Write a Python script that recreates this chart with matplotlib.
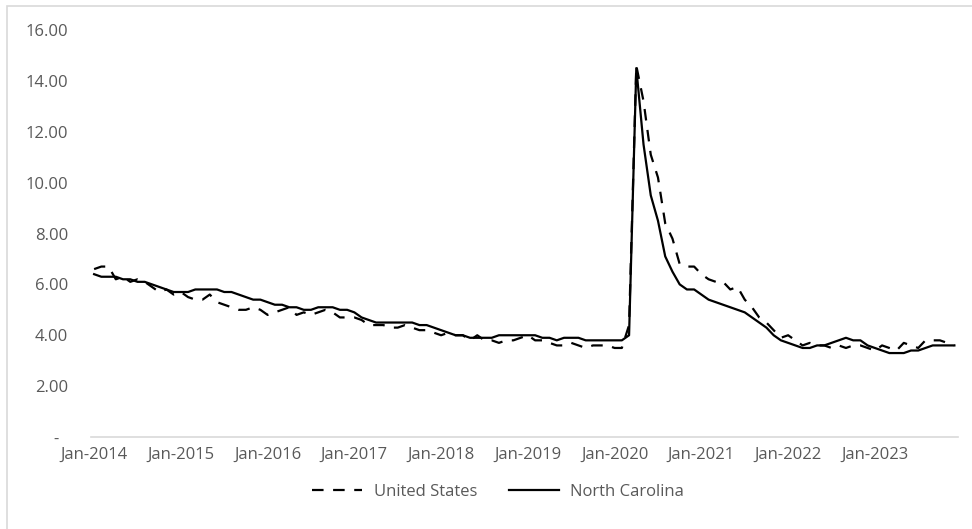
import matplotlib.pyplot as plt
from matplotlib.patches import Rectangle

# monthly unemployment rate, Jan-2014 .. Dec-2023
years = list(range(2014, 2024))
month_labels = [f"Jan-{y}" for y in years]

united_states = [
    6.6, 6.7, 6.7, 6.2, 6.3, 6.1, 6.2, 6.1, 5.9, 5.7, 5.8, 5.6,
    5.7, 5.5, 5.4, 5.4, 5.6, 5.3, 5.2, 5.1, 5.0, 5.0, 5.1, 5.0,
    4.8, 4.9, 5.0, 5.1, 4.8, 4.9, 4.8, 4.9, 5.0, 4.9, 4.7, 4.7,
    4.7, 4.6, 4.4, 4.4, 4.4, 4.3, 4.3, 4.4, 4.3, 4.2, 4.2, 4.1,
    4.0, 4.1, 4.0, 4.0, 3.8, 4.0, 3.8, 3.8, 3.7, 3.8, 3.8, 3.9,
    4.0, 3.8, 3.8, 3.7, 3.6, 3.6, 3.7, 3.6, 3.5, 3.6, 3.6, 3.6,
    3.5, 3.5, 4.4, 14.6, 13.2, 11.1, 10.2, 8.4, 7.8, 6.8, 6.7, 6.7,
    6.4, 6.2, 6.1, 6.1, 5.8, 5.9, 5.4, 5.1, 4.7, 4.5, 4.2, 3.9,
    4.0, 3.8, 3.6, 3.7, 3.6, 3.6, 3.5, 3.6, 3.5, 3.6, 3.6, 3.5,
    3.4, 3.6, 3.5, 3.4, 3.7, 3.6, 3.5, 3.8, 3.8, 3.8, 3.7, 3.6,
]

north_carolina = [
    6.4, 6.3, 6.3, 6.3, 6.2, 6.2, 6.1, 6.1, 6.0, 5.9, 5.8, 5.7,
    5.7, 5.7, 5.8, 5.8, 5.8, 5.8, 5.7, 5.7, 5.6, 5.5, 5.4, 5.4,
    5.3, 5.2, 5.2, 5.1, 5.1, 5.0, 5.0, 5.1, 5.1, 5.1, 5.0, 5.0,
    4.9, 4.7, 4.6, 4.5, 4.5, 4.5, 4.5, 4.5, 4.5, 4.4, 4.4, 4.3,
    4.2, 4.1, 4.0, 4.0, 3.9, 3.9, 3.9, 3.9, 4.0, 4.0, 4.0, 4.0,
    4.0, 4.0, 3.9, 3.9, 3.8, 3.9, 3.9, 3.9, 3.8, 3.8, 3.8, 3.8,
    3.8, 3.8, 4.0, 14.5, 11.5, 9.5, 8.5, 7.1, 6.5, 6.0, 5.8, 5.8,
    5.6, 5.4, 5.3, 5.2, 5.1, 5.0, 4.9, 4.7, 4.5, 4.3, 4.0, 3.8,
    3.7, 3.6, 3.5, 3.5, 3.6, 3.6, 3.7, 3.8, 3.9, 3.8, 3.8, 3.6,
    3.5, 3.4, 3.3, 3.3, 3.3, 3.4, 3.4, 3.5, 3.6, 3.6, 3.6, 3.6,
]

y_ticks = [0, 2, 4, 6, 8, 10, 12, 14, 16]

plt.rcParams["font.family"] = ["Open Sans", "DejaVu Sans"]
text_color = "#595959"
line_gray = "#d9d9d9"

W, H = 972, 529
fig = plt.figure(figsize=(W / 100, H / 100), dpi=100)
ax = fig.add_axes([90.5 / W, (H - 437) / H, (958 - 90.5) / W, (437 - 30) / H])

x = list(range(len(united_states)))
ax.plot(x, united_states, color="black", lw=1.6,
        linestyle=(0, (5.2, 4.3)), label="United States")
ax.plot(x, north_carolina, color="black", lw=1.6, label="North Carolina")

ax.set_xlim(-0.5, len(x) - 0.5)
ax.set_ylim(0, 16)
ax.set_yticks(y_ticks)
ax.set_yticklabels([f"{v:.2f}" if v else "-  " for v in y_ticks])
ax.set_xticks(list(range(0, len(x), 12)))
ax.set_xticklabels(month_labels)
ax.tick_params(axis="y", length=0, pad=16, labelsize=12, labelcolor=text_color)
ax.tick_params(axis="x", length=0, pad=7, labelsize=12, labelcolor=text_color)

for side in ["top", "right", "left"]:
    ax.spines[side].set_visible(False)
ax.spines["bottom"].set_color(line_gray)
ax.spines["bottom"].set_linewidth(1.2)

fig.legend(loc="center", bbox_to_anchor=(498 / W, (H - 492) / H), ncol=2,
           frameon=False, fontsize=12, labelcolor=text_color,
           handlelength=3.0, handletextpad=0.7, columnspacing=1.9)

# chart area border (cut off at right and bottom)
fig.patches.append(Rectangle((7 / W, -0.1), 1.2, (H - 6) / H + 0.1,
                             transform=fig.transFigure, fill=False,
                             edgecolor=line_gray, lw=1.2))

fig.savefig("out.png", dpi=100)
